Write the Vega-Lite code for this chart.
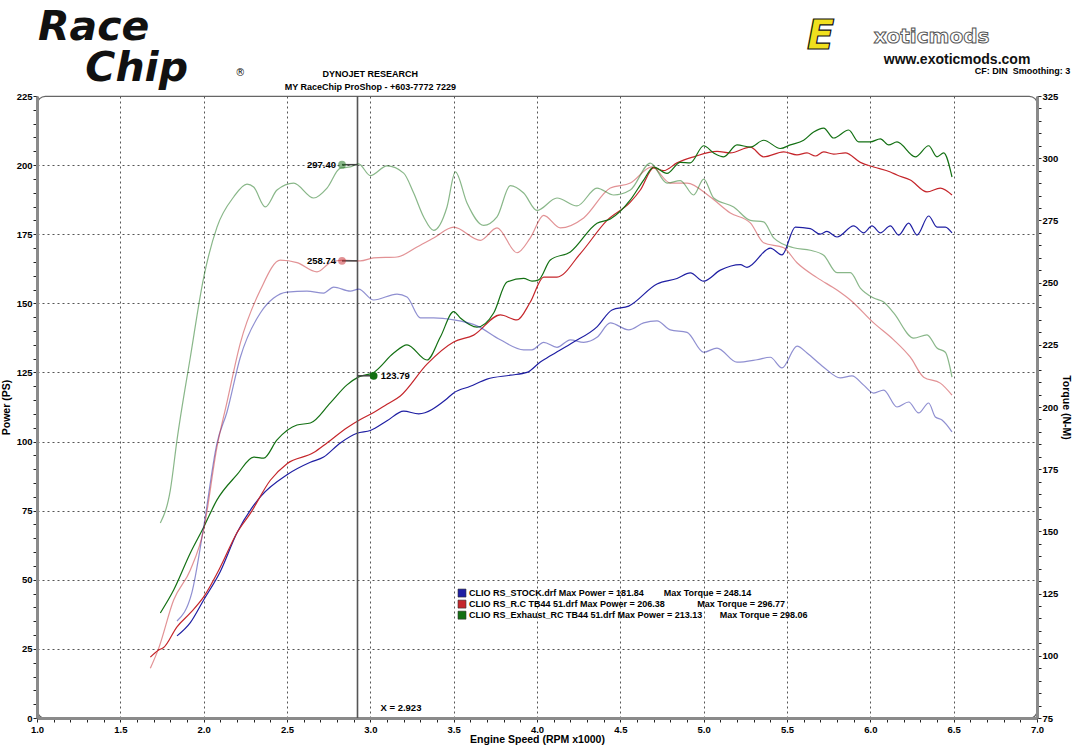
{
"$schema": "https://vega.github.io/schema/vega-lite/v6.json",
"width": 1000, "height": 622,
"autosize": {"type": "none"},
"padding": {"left": 37, "top": 96, "right": 43, "bottom": 30},
"background": "white",
"config": {
 "font": "Liberation Sans",
 "view": {"stroke": "#666", "strokeWidth": 1.2, "cornerRadius": 8},
 "axis": {"labelFont": "Liberation Sans", "labelFontWeight": "bold", "labelFontSize": 9.5, "labelColor": "#000", "titleFont": "Liberation Sans", "titleFontWeight": "bold", "titleFontSize": 10.5, "titleColor": "#000", "domainColor": "#8a8a8a", "domainWidth": 3, "tickColor": "#222", "tickWidth": 1, "tickSize": 4, "gridColor": "#555", "gridDash": [2, 3], "gridWidth": 1, "labelOverlap": false, "labelFlush": false, "labelBound": false, "tickCount": 1000}
},
"datasets": {
 "curves": [
{"run":"STOCK","kind":"power","rpm":1.84,"value":29.7},{"run":"STOCK","kind":"power","rpm":1.92,"value":34.5},{"run":"STOCK","kind":"power","rpm":2.0,"value":42.7},{"run":"STOCK","kind":"power","rpm":2.1,"value":53},{"run":"STOCK","kind":"power","rpm":2.2,"value":67},{"run":"STOCK","kind":"power","rpm":2.34,"value":80},{"run":"STOCK","kind":"power","rpm":2.5,"value":88},{"run":"STOCK","kind":"power","rpm":2.64,"value":92.5},{"run":"STOCK","kind":"power","rpm":2.72,"value":94.4},{"run":"STOCK","kind":"power","rpm":2.82,"value":99.5},{"run":"STOCK","kind":"power","rpm":2.92,"value":103},{"run":"STOCK","kind":"power","rpm":3.0,"value":104},{"run":"STOCK","kind":"power","rpm":3.1,"value":107.5},{"run":"STOCK","kind":"power","rpm":3.2,"value":111},{"run":"STOCK","kind":"power","rpm":3.29,"value":110},{"run":"STOCK","kind":"power","rpm":3.45,"value":115},{"run":"STOCK","kind":"power","rpm":3.5,"value":117.6},{"run":"STOCK","kind":"power","rpm":3.6,"value":120},{"run":"STOCK","kind":"power","rpm":3.7,"value":122.6},{"run":"STOCK","kind":"power","rpm":3.84,"value":124},{"run":"STOCK","kind":"power","rpm":3.94,"value":125},{"run":"STOCK","kind":"power","rpm":4.02,"value":128.8},{"run":"STOCK","kind":"power","rpm":4.08,"value":131},{"run":"STOCK","kind":"power","rpm":4.22,"value":136},{"run":"STOCK","kind":"power","rpm":4.36,"value":141.5},{"run":"STOCK","kind":"power","rpm":4.45,"value":147.6},{"run":"STOCK","kind":"power","rpm":4.55,"value":149},{"run":"STOCK","kind":"power","rpm":4.72,"value":157},{"run":"STOCK","kind":"power","rpm":4.84,"value":159},{"run":"STOCK","kind":"power","rpm":4.92,"value":161},{"run":"STOCK","kind":"power","rpm":5.0,"value":158},{"run":"STOCK","kind":"power","rpm":5.1,"value":162},{"run":"STOCK","kind":"power","rpm":5.22,"value":164},{"run":"STOCK","kind":"power","rpm":5.26,"value":163},{"run":"STOCK","kind":"power","rpm":5.4,"value":170},{"run":"STOCK","kind":"power","rpm":5.47,"value":167.5},{"run":"STOCK","kind":"power","rpm":5.55,"value":177.6},{"run":"STOCK","kind":"power","rpm":5.64,"value":177},{"run":"STOCK","kind":"power","rpm":5.7,"value":175},{"run":"STOCK","kind":"power","rpm":5.74,"value":176},{"run":"STOCK","kind":"power","rpm":5.8,"value":174},{"run":"STOCK","kind":"power","rpm":5.9,"value":178},{"run":"STOCK","kind":"power","rpm":5.96,"value":175.5},{"run":"STOCK","kind":"power","rpm":6.01,"value":178},{"run":"STOCK","kind":"power","rpm":6.06,"value":175.5},{"run":"STOCK","kind":"power","rpm":6.12,"value":178},{"run":"STOCK","kind":"power","rpm":6.17,"value":174.7},{"run":"STOCK","kind":"power","rpm":6.23,"value":179},{"run":"STOCK","kind":"power","rpm":6.28,"value":174.7},{"run":"STOCK","kind":"power","rpm":6.35,"value":181.6},{"run":"STOCK","kind":"power","rpm":6.4,"value":177.6},{"run":"STOCK","kind":"power","rpm":6.45,"value":177.6},{"run":"STOCK","kind":"power","rpm":6.49,"value":175.5},
{"run":"STOCK","kind":"torque","rpm":1.84,"value":114},{"run":"STOCK","kind":"torque","rpm":1.93,"value":125.6},{"run":"STOCK","kind":"torque","rpm":2.0,"value":151.8},{"run":"STOCK","kind":"torque","rpm":2.08,"value":185.5},{"run":"STOCK","kind":"torque","rpm":2.14,"value":198},{"run":"STOCK","kind":"torque","rpm":2.22,"value":220},{"run":"STOCK","kind":"torque","rpm":2.34,"value":237.8},{"run":"STOCK","kind":"torque","rpm":2.42,"value":243.8},{"run":"STOCK","kind":"torque","rpm":2.5,"value":246.2},{"run":"STOCK","kind":"torque","rpm":2.62,"value":246.6},{"run":"STOCK","kind":"torque","rpm":2.72,"value":245.8},{"run":"STOCK","kind":"torque","rpm":2.78,"value":248.2},{"run":"STOCK","kind":"torque","rpm":2.88,"value":246.6},{"run":"STOCK","kind":"torque","rpm":2.93,"value":247.4},{"run":"STOCK","kind":"torque","rpm":3.02,"value":243},{"run":"STOCK","kind":"torque","rpm":3.16,"value":245.4},{"run":"STOCK","kind":"torque","rpm":3.22,"value":244.2},{"run":"STOCK","kind":"torque","rpm":3.3,"value":235.8},{"run":"STOCK","kind":"torque","rpm":3.38,"value":235.8},{"run":"STOCK","kind":"torque","rpm":3.5,"value":235},{"run":"STOCK","kind":"torque","rpm":3.64,"value":232.6},{"run":"STOCK","kind":"torque","rpm":3.78,"value":227},{"run":"STOCK","kind":"torque","rpm":3.92,"value":223},{"run":"STOCK","kind":"torque","rpm":3.97,"value":223},{"run":"STOCK","kind":"torque","rpm":4.04,"value":226},{"run":"STOCK","kind":"torque","rpm":4.12,"value":224},{"run":"STOCK","kind":"torque","rpm":4.2,"value":227},{"run":"STOCK","kind":"torque","rpm":4.28,"value":226},{"run":"STOCK","kind":"torque","rpm":4.36,"value":228},{"run":"STOCK","kind":"torque","rpm":4.44,"value":233.8},{"run":"STOCK","kind":"torque","rpm":4.55,"value":231},{"run":"STOCK","kind":"torque","rpm":4.64,"value":233.8},{"run":"STOCK","kind":"torque","rpm":4.72,"value":234.6},{"run":"STOCK","kind":"torque","rpm":4.8,"value":231},{"run":"STOCK","kind":"torque","rpm":4.9,"value":230},{"run":"STOCK","kind":"torque","rpm":5.0,"value":222},{"run":"STOCK","kind":"torque","rpm":5.08,"value":223.7},{"run":"STOCK","kind":"torque","rpm":5.2,"value":218},{"run":"STOCK","kind":"torque","rpm":5.32,"value":219},{"run":"STOCK","kind":"torque","rpm":5.4,"value":220},{"run":"STOCK","kind":"torque","rpm":5.47,"value":215.7},{"run":"STOCK","kind":"torque","rpm":5.56,"value":224.5},{"run":"STOCK","kind":"torque","rpm":5.62,"value":221.7},{"run":"STOCK","kind":"torque","rpm":5.72,"value":216},{"run":"STOCK","kind":"torque","rpm":5.82,"value":211.7},{"run":"STOCK","kind":"torque","rpm":5.89,"value":212.5},{"run":"STOCK","kind":"torque","rpm":5.96,"value":208.8},{"run":"STOCK","kind":"torque","rpm":6.02,"value":205.6},{"run":"STOCK","kind":"torque","rpm":6.08,"value":206.8},{"run":"STOCK","kind":"torque","rpm":6.16,"value":200},{"run":"STOCK","kind":"torque","rpm":6.23,"value":202},{"run":"STOCK","kind":"torque","rpm":6.29,"value":197.6},{"run":"STOCK","kind":"torque","rpm":6.35,"value":201.6},{"run":"STOCK","kind":"torque","rpm":6.39,"value":196},{"run":"STOCK","kind":"torque","rpm":6.43,"value":194.8},{"run":"STOCK","kind":"torque","rpm":6.49,"value":190},
{"run":"RC","kind":"power","rpm":1.68,"value":22},{"run":"RC","kind":"power","rpm":1.73,"value":24.6},{"run":"RC","kind":"power","rpm":1.76,"value":25.5},{"run":"RC","kind":"power","rpm":1.84,"value":33},{"run":"RC","kind":"power","rpm":1.92,"value":38},{"run":"RC","kind":"power","rpm":2.0,"value":43.8},{"run":"RC","kind":"power","rpm":2.1,"value":54.6},{"run":"RC","kind":"power","rpm":2.2,"value":67},{"run":"RC","kind":"power","rpm":2.28,"value":74},{"run":"RC","kind":"power","rpm":2.4,"value":86},{"run":"RC","kind":"power","rpm":2.5,"value":92},{"run":"RC","kind":"power","rpm":2.66,"value":96},{"run":"RC","kind":"power","rpm":2.74,"value":99.5},{"run":"RC","kind":"power","rpm":2.86,"value":105},{"run":"RC","kind":"power","rpm":2.94,"value":108},{"run":"RC","kind":"power","rpm":3.02,"value":110.5},{"run":"RC","kind":"power","rpm":3.1,"value":113.5},{"run":"RC","kind":"power","rpm":3.18,"value":116.5},{"run":"RC","kind":"power","rpm":3.34,"value":128},{"run":"RC","kind":"power","rpm":3.5,"value":136},{"run":"RC","kind":"power","rpm":3.62,"value":138.5},{"run":"RC","kind":"power","rpm":3.78,"value":145.8},{"run":"RC","kind":"power","rpm":3.88,"value":144},{"run":"RC","kind":"power","rpm":3.96,"value":150.5},{"run":"RC","kind":"power","rpm":4.04,"value":159.5},{"run":"RC","kind":"power","rpm":4.12,"value":159.5},{"run":"RC","kind":"power","rpm":4.26,"value":168},{"run":"RC","kind":"power","rpm":4.42,"value":180},{"run":"RC","kind":"power","rpm":4.56,"value":186.6},{"run":"RC","kind":"power","rpm":4.62,"value":191},{"run":"RC","kind":"power","rpm":4.7,"value":199},{"run":"RC","kind":"power","rpm":4.76,"value":198},{"run":"RC","kind":"power","rpm":4.84,"value":200.8},{"run":"RC","kind":"power","rpm":4.94,"value":203},{"run":"RC","kind":"power","rpm":5.08,"value":205},{"run":"RC","kind":"power","rpm":5.16,"value":204.4},{"run":"RC","kind":"power","rpm":5.28,"value":206.5},{"run":"RC","kind":"power","rpm":5.36,"value":203},{"run":"RC","kind":"power","rpm":5.48,"value":204.8},{"run":"RC","kind":"power","rpm":5.56,"value":203.7},{"run":"RC","kind":"power","rpm":5.62,"value":204.4},{"run":"RC","kind":"power","rpm":5.67,"value":203.3},{"run":"RC","kind":"power","rpm":5.72,"value":204.8},{"run":"RC","kind":"power","rpm":5.78,"value":204},{"run":"RC","kind":"power","rpm":5.85,"value":204.4},{"run":"RC","kind":"power","rpm":5.94,"value":201},{"run":"RC","kind":"power","rpm":6.02,"value":199.3},{"run":"RC","kind":"power","rpm":6.12,"value":197.5},{"run":"RC","kind":"power","rpm":6.16,"value":196.4},{"run":"RC","kind":"power","rpm":6.24,"value":194.6},{"run":"RC","kind":"power","rpm":6.34,"value":190.3},{"run":"RC","kind":"power","rpm":6.42,"value":191.7},{"run":"RC","kind":"power","rpm":6.49,"value":189.2},
{"run":"RC","kind":"torque","rpm":1.68,"value":95},{"run":"RC","kind":"torque","rpm":1.73,"value":103},{"run":"RC","kind":"torque","rpm":1.82,"value":122.4},{"run":"RC","kind":"torque","rpm":1.92,"value":134.5},{"run":"RC","kind":"torque","rpm":2.0,"value":150.6},{"run":"RC","kind":"torque","rpm":2.08,"value":184},{"run":"RC","kind":"torque","rpm":2.14,"value":202},{"run":"RC","kind":"torque","rpm":2.22,"value":225.7},{"run":"RC","kind":"torque","rpm":2.34,"value":247},{"run":"RC","kind":"torque","rpm":2.46,"value":259},{"run":"RC","kind":"torque","rpm":2.56,"value":258},{"run":"RC","kind":"torque","rpm":2.68,"value":254.3},{"run":"RC","kind":"torque","rpm":2.76,"value":258},{"run":"RC","kind":"torque","rpm":2.84,"value":259},{"run":"RC","kind":"torque","rpm":2.94,"value":258.7},{"run":"RC","kind":"torque","rpm":3.02,"value":259.9},{"run":"RC","kind":"torque","rpm":3.16,"value":260.3},{"run":"RC","kind":"torque","rpm":3.28,"value":264.3},{"run":"RC","kind":"torque","rpm":3.38,"value":267.9},{"run":"RC","kind":"torque","rpm":3.5,"value":272.3},{"run":"RC","kind":"torque","rpm":3.66,"value":267},{"run":"RC","kind":"torque","rpm":3.76,"value":272},{"run":"RC","kind":"torque","rpm":3.88,"value":262},{"run":"RC","kind":"torque","rpm":3.96,"value":268},{"run":"RC","kind":"torque","rpm":4.04,"value":277},{"run":"RC","kind":"torque","rpm":4.14,"value":272},{"run":"RC","kind":"torque","rpm":4.28,"value":276},{"run":"RC","kind":"torque","rpm":4.44,"value":288},{"run":"RC","kind":"torque","rpm":4.56,"value":290},{"run":"RC","kind":"torque","rpm":4.69,"value":296.5},{"run":"RC","kind":"torque","rpm":4.8,"value":290},{"run":"RC","kind":"torque","rpm":4.9,"value":290},{"run":"RC","kind":"torque","rpm":5.04,"value":284.4},{"run":"RC","kind":"torque","rpm":5.16,"value":278},{"run":"RC","kind":"torque","rpm":5.28,"value":274},{"run":"RC","kind":"torque","rpm":5.36,"value":266},{"run":"RC","kind":"torque","rpm":5.48,"value":264},{"run":"RC","kind":"torque","rpm":5.56,"value":258},{"run":"RC","kind":"torque","rpm":5.68,"value":252},{"run":"RC","kind":"torque","rpm":5.8,"value":247},{"run":"RC","kind":"torque","rpm":5.88,"value":243},{"run":"RC","kind":"torque","rpm":6.02,"value":233.8},{"run":"RC","kind":"torque","rpm":6.14,"value":227},{"run":"RC","kind":"torque","rpm":6.24,"value":220},{"run":"RC","kind":"torque","rpm":6.32,"value":212},{"run":"RC","kind":"torque","rpm":6.42,"value":209.6},{"run":"RC","kind":"torque","rpm":6.49,"value":204.8},
{"run":"EXH","kind":"power","rpm":1.74,"value":38},{"run":"EXH","kind":"power","rpm":1.82,"value":46.3},{"run":"EXH","kind":"power","rpm":1.92,"value":59.7},{"run":"EXH","kind":"power","rpm":2.0,"value":69},{"run":"EXH","kind":"power","rpm":2.08,"value":78.9},{"run":"EXH","kind":"power","rpm":2.2,"value":88},{"run":"EXH","kind":"power","rpm":2.3,"value":94.4},{"run":"EXH","kind":"power","rpm":2.36,"value":94},{"run":"EXH","kind":"power","rpm":2.44,"value":100.6},{"run":"EXH","kind":"power","rpm":2.56,"value":106},{"run":"EXH","kind":"power","rpm":2.64,"value":106.7},{"run":"EXH","kind":"power","rpm":2.76,"value":114},{"run":"EXH","kind":"power","rpm":2.86,"value":120.5},{"run":"EXH","kind":"power","rpm":2.93,"value":123.4},{"run":"EXH","kind":"power","rpm":3.02,"value":125},{"run":"EXH","kind":"power","rpm":3.14,"value":132},{"run":"EXH","kind":"power","rpm":3.22,"value":135},{"run":"EXH","kind":"power","rpm":3.34,"value":129.5},{"run":"EXH","kind":"power","rpm":3.42,"value":137.8},{"run":"EXH","kind":"power","rpm":3.5,"value":147},{"run":"EXH","kind":"power","rpm":3.54,"value":144.7},{"run":"EXH","kind":"power","rpm":3.64,"value":141.4},{"run":"EXH","kind":"power","rpm":3.74,"value":146.5},{"run":"EXH","kind":"power","rpm":3.82,"value":157.7},{"run":"EXH","kind":"power","rpm":3.92,"value":159},{"run":"EXH","kind":"power","rpm":3.97,"value":158},{"run":"EXH","kind":"power","rpm":4.01,"value":158.5},{"run":"EXH","kind":"power","rpm":4.08,"value":165.7},{"run":"EXH","kind":"power","rpm":4.2,"value":168.6},{"run":"EXH","kind":"power","rpm":4.36,"value":179},{"run":"EXH","kind":"power","rpm":4.44,"value":180.5},{"run":"EXH","kind":"power","rpm":4.56,"value":187.4},{"run":"EXH","kind":"power","rpm":4.64,"value":194.6},{"run":"EXH","kind":"power","rpm":4.7,"value":199.3},{"run":"EXH","kind":"power","rpm":4.78,"value":197},{"run":"EXH","kind":"power","rpm":4.86,"value":201},{"run":"EXH","kind":"power","rpm":4.92,"value":200.8},{"run":"EXH","kind":"power","rpm":5.0,"value":207},{"run":"EXH","kind":"power","rpm":5.06,"value":204.4},{"run":"EXH","kind":"power","rpm":5.12,"value":203},{"run":"EXH","kind":"power","rpm":5.2,"value":207.3},{"run":"EXH","kind":"power","rpm":5.28,"value":206.5},{"run":"EXH","kind":"power","rpm":5.36,"value":209},{"run":"EXH","kind":"power","rpm":5.46,"value":206},{"run":"EXH","kind":"power","rpm":5.52,"value":207.3},{"run":"EXH","kind":"power","rpm":5.6,"value":209},{"run":"EXH","kind":"power","rpm":5.66,"value":212},{"run":"EXH","kind":"power","rpm":5.72,"value":213.4},{"run":"EXH","kind":"power","rpm":5.78,"value":209.8},{"run":"EXH","kind":"power","rpm":5.87,"value":212.7},{"run":"EXH","kind":"power","rpm":5.93,"value":208.4},{"run":"EXH","kind":"power","rpm":6.0,"value":208.4},{"run":"EXH","kind":"power","rpm":6.06,"value":209.5},{"run":"EXH","kind":"power","rpm":6.11,"value":207.3},{"run":"EXH","kind":"power","rpm":6.16,"value":208.4},{"run":"EXH","kind":"power","rpm":6.27,"value":203},{"run":"EXH","kind":"power","rpm":6.35,"value":207},{"run":"EXH","kind":"power","rpm":6.4,"value":203},{"run":"EXH","kind":"power","rpm":6.44,"value":204.4},{"run":"EXH","kind":"power","rpm":6.49,"value":195.7},
{"run":"EXH","kind":"torque","rpm":1.74,"value":153.4},{"run":"EXH","kind":"torque","rpm":1.8,"value":166.6},{"run":"EXH","kind":"torque","rpm":1.84,"value":186.7},{"run":"EXH","kind":"torque","rpm":1.92,"value":220},{"run":"EXH","kind":"torque","rpm":2.0,"value":252},{"run":"EXH","kind":"torque","rpm":2.08,"value":272.3},{"run":"EXH","kind":"torque","rpm":2.18,"value":284.4},{"run":"EXH","kind":"torque","rpm":2.26,"value":289.6},{"run":"EXH","kind":"torque","rpm":2.3,"value":288.4},{"run":"EXH","kind":"torque","rpm":2.37,"value":280.4},{"run":"EXH","kind":"torque","rpm":2.44,"value":287.2},{"run":"EXH","kind":"torque","rpm":2.54,"value":290},{"run":"EXH","kind":"torque","rpm":2.66,"value":284},{"run":"EXH","kind":"torque","rpm":2.74,"value":288},{"run":"EXH","kind":"torque","rpm":2.82,"value":296},{"run":"EXH","kind":"torque","rpm":2.88,"value":296.5},{"run":"EXH","kind":"torque","rpm":2.93,"value":297.7},{"run":"EXH","kind":"torque","rpm":3.0,"value":293},{"run":"EXH","kind":"torque","rpm":3.1,"value":296.9},{"run":"EXH","kind":"torque","rpm":3.2,"value":294},{"run":"EXH","kind":"torque","rpm":3.26,"value":286},{"run":"EXH","kind":"torque","rpm":3.32,"value":276.4},{"run":"EXH","kind":"torque","rpm":3.38,"value":271},{"run":"EXH","kind":"torque","rpm":3.46,"value":280.4},{"run":"EXH","kind":"torque","rpm":3.51,"value":294.5},{"run":"EXH","kind":"torque","rpm":3.58,"value":282},{"run":"EXH","kind":"torque","rpm":3.68,"value":273},{"run":"EXH","kind":"torque","rpm":3.76,"value":276.4},{"run":"EXH","kind":"torque","rpm":3.84,"value":289},{"run":"EXH","kind":"torque","rpm":3.92,"value":286},{"run":"EXH","kind":"torque","rpm":4.0,"value":279},{"run":"EXH","kind":"torque","rpm":4.12,"value":284},{"run":"EXH","kind":"torque","rpm":4.24,"value":280.8},{"run":"EXH","kind":"torque","rpm":4.36,"value":288},{"run":"EXH","kind":"torque","rpm":4.46,"value":285.2},{"run":"EXH","kind":"torque","rpm":4.56,"value":287.2},{"run":"EXH","kind":"torque","rpm":4.68,"value":298},{"run":"EXH","kind":"torque","rpm":4.78,"value":290},{"run":"EXH","kind":"torque","rpm":4.86,"value":291},{"run":"EXH","kind":"torque","rpm":4.94,"value":285.2},{"run":"EXH","kind":"torque","rpm":5.0,"value":291.6},{"run":"EXH","kind":"torque","rpm":5.06,"value":284},{"run":"EXH","kind":"torque","rpm":5.18,"value":280.4},{"run":"EXH","kind":"torque","rpm":5.28,"value":275},{"run":"EXH","kind":"torque","rpm":5.36,"value":274.4},{"run":"EXH","kind":"torque","rpm":5.42,"value":268},{"run":"EXH","kind":"torque","rpm":5.54,"value":264},{"run":"EXH","kind":"torque","rpm":5.64,"value":263},{"run":"EXH","kind":"torque","rpm":5.72,"value":261},{"run":"EXH","kind":"torque","rpm":5.8,"value":254},{"run":"EXH","kind":"torque","rpm":5.88,"value":254},{"run":"EXH","kind":"torque","rpm":5.94,"value":247.8},{"run":"EXH","kind":"torque","rpm":6.02,"value":243.8},{"run":"EXH","kind":"torque","rpm":6.08,"value":242.2},{"run":"EXH","kind":"torque","rpm":6.14,"value":237.8},{"run":"EXH","kind":"torque","rpm":6.26,"value":227.7},{"run":"EXH","kind":"torque","rpm":6.34,"value":229},{"run":"EXH","kind":"torque","rpm":6.4,"value":223.7},{"run":"EXH","kind":"torque","rpm":6.45,"value":222},{"run":"EXH","kind":"torque","rpm":6.49,"value":212}
 ],
 "markers": [
  {"run":"EXH","kind":"torque","rpm":2.83,"cursor":2.923,"value":297.40,"label":"297.40"},
  {"run":"RC","kind":"torque","rpm":2.83,"cursor":2.923,"value":258.74,"label":"258.74"},
  {"run":"EXH","kind":"power","rpm":3.02,"cursor":2.923,"value":123.79,"label":"123.79"}
 ],
 "cursor": [{"rpm": 2.923, "label": "X = 2.923"}]
},
"layer": [
 {
  "layer": [
   {
    "data": {"name": "curves"},
    "transform": [{"filter": "datum.kind == 'power'"}],
    "mark": {"type": "line", "strokeWidth": 1.2, "interpolate": "monotone"},
    "encoding": {
     "x": {"field": "rpm", "type": "quantitative", "scale": {"domain": [1, 7], "nice": false, "zero": false},
      "axis": {"title": "Engine Speed (RPM x1000)", "tickCount": 1000, "values": [1,1.1,1.2,1.3,1.4,1.5,1.6,1.7,1.8,1.9,2,2.1,2.2,2.3,2.4,2.5,2.6,2.7,2.8,2.9,3,3.1,3.2,3.3,3.4,3.5,3.6,3.7,3.8,3.9,4,4.1,4.2,4.3,4.4,4.5,4.6,4.7,4.8,4.9,5,5.1,5.2,5.3,5.4,5.5,5.6,5.7,5.8,5.9,6,6.1,6.2,6.3,6.4,6.5,6.6,6.7,6.8,6.9,7],
       "format": ".1f", "labelExpr": "abs(datum.value*2-round(datum.value*2)) < 0.01 ? datum.label : ''",
       "grid": true, "gridOpacity": {"condition": {"test": "abs(datum.value*2-round(datum.value*2)) < 0.01 && datum.value > 1.01 && datum.value < 6.99", "value": 1}, "value": 0},
       "labelPadding": 2, "titlePadding": 1}},
     "y": {"field": "value", "type": "quantitative", "scale": {"domain": [0, 225], "nice": false, "zero": false},
      "axis": {"title": "Power (PS)", "orient": "left", "tickCount": 1000, "format": "d", "values": [0,5,10,15,20,25,30,35,40,45,50,55,60,65,70,75,80,85,90,95,100,105,110,115,120,125,130,135,140,145,150,155,160,165,170,175,180,185,190,195,200,205,210,215,220,225],
       "labelExpr": "datum.value % 25 == 0 ? datum.label : ''",
       "grid": true, "gridOpacity": {"condition": {"test": "datum.value % 25 == 0 && datum.value > 0 && datum.value < 225", "value": 1}, "value": 0},
       "labelPadding": 1, "titlePadding": 5}},
     "color": {"field": "run", "type": "nominal", "scale": {"domain": ["STOCK", "RC", "EXH"], "range": ["#1f1fa3", "#c5262b", "#137013"]}, "legend": null},
     "opacity": {"field": "kind", "type": "nominal", "scale": {"domain": ["power", "torque"], "range": [1, 0.5]}, "legend": null}
    }
   },
   {
    "data": {"name": "cursor"},
    "mark": {"type": "rule", "color": "#555", "strokeWidth": 1.6},
    "encoding": {"x": {"field": "rpm", "type": "quantitative"}}
   },
   {
    "data": {"name": "cursor"},
    "mark": {"type": "text", "align": "left", "baseline": "middle", "dx": 23, "dy": -10, "font": "Liberation Sans", "fontWeight": "bold", "fontSize": 9.5, "color": "#000"},
    "encoding": {"x": {"field": "rpm", "type": "quantitative"}, "y": {"datum": 0, "type": "quantitative"}, "text": {"field": "label"}}
   },
   {
    "data": {"name": "markers"},
    "transform": [{"filter": "datum.kind == 'power'"}],
    "mark": {"type": "rule", "color": "#444", "strokeWidth": 1.5},
    "encoding": {"x": {"field": "rpm", "type": "quantitative"}, "x2": {"field": "cursor"}, "y": {"field": "value", "type": "quantitative"}}
   },
   {
    "data": {"name": "markers"},
    "transform": [{"filter": "datum.kind == 'power'"}],
    "mark": {"type": "circle", "size": 60},
    "encoding": {"x": {"field": "rpm", "type": "quantitative"}, "y": {"field": "value", "type": "quantitative"},
     "color": {"field": "run", "type": "nominal", "legend": null},
     "opacity": {"field": "kind", "type": "nominal"}}
   },
   {
    "data": {"name": "markers"},
    "transform": [{"filter": "datum.kind == 'power'"}],
    "mark": {"type": "text", "align": "left", "baseline": "middle", "dx": 7, "font": "Liberation Sans", "fontWeight": "bold", "fontSize": 9.5, "color": "#000"},
    "encoding": {"x": {"field": "rpm", "type": "quantitative"}, "y": {"field": "value", "type": "quantitative"}, "text": {"field": "label"}}
   },
   {
    "data": {"values": [{}]},
    "mark": {"type": "square", "size": 64, "filled": true, "opacity": 1, "stroke": "#333", "strokeWidth": 0.6},
    "encoding": {"x": {"datum": 3.55, "type": "quantitative"}, "y": {"datum": 45.2, "type": "quantitative"}, "color": {"datum": "STOCK", "type": "nominal", "legend": null}}
   },
   {
    "data": {"values": [{}]},
    "mark": {"type": "square", "size": 64, "filled": true, "opacity": 1, "stroke": "#333", "strokeWidth": 0.6},
    "encoding": {"x": {"datum": 3.55, "type": "quantitative"}, "y": {"datum": 41.2, "type": "quantitative"}, "color": {"datum": "RC", "type": "nominal", "legend": null}}
   },
   {
    "data": {"values": [{}]},
    "mark": {"type": "square", "size": 64, "filled": true, "opacity": 1, "stroke": "#333", "strokeWidth": 0.6},
    "encoding": {"x": {"datum": 3.55, "type": "quantitative"}, "y": {"datum": 37.2, "type": "quantitative"}, "color": {"datum": "EXH", "type": "nominal", "legend": null}}
   },
   {
    "data": {"values": [{}]},
    "mark": {"type": "text", "text": "CLIO RS_STOCK.drf Max Power = 181.84\u00a0\u00a0\u00a0\u00a0\u00a0\u00a0\u00a0\u00a0Max Torque = 248.14", "align": "left", "baseline": "middle", "font": "Liberation Sans", "fontWeight": "bold", "fontSize": 9, "color": "#000"},
    "encoding": {"x": {"datum": 3.592, "type": "quantitative"}, "y": {"datum": 45.2, "type": "quantitative"}}
   },
   {
    "data": {"values": [{}]},
    "mark": {"type": "text", "text": "CLIO RS_R.C TB44 51.drf Max Power = 206.38\u00a0\u00a0\u00a0\u00a0\u00a0\u00a0\u00a0\u00a0\u00a0\u00a0\u00a0\u00a0\u00a0Max Torque = 296.77", "align": "left", "baseline": "middle", "font": "Liberation Sans", "fontWeight": "bold", "fontSize": 9, "color": "#000"},
    "encoding": {"x": {"datum": 3.592, "type": "quantitative"}, "y": {"datum": 41.2, "type": "quantitative"}}
   },
   {
    "data": {"values": [{}]},
    "mark": {"type": "text", "text": "CLIO RS_Exhaust_RC TB44 51.drf Max Power = 213.13\u00a0\u00a0\u00a0\u00a0\u00a0\u00a0\u00a0Max Torque = 298.06", "align": "left", "baseline": "middle", "font": "Liberation Sans", "fontWeight": "bold", "fontSize": 9, "color": "#000"},
    "encoding": {"x": {"datum": 3.592, "type": "quantitative"}, "y": {"datum": 37.2, "type": "quantitative"}}
   },
   {
    "data": {"values": [{}]},
    "mark": {"type": "text", "text": "Race", "align": "left", "baseline": "alphabetic", "font": "DejaVu Sans", "fontWeight": "bold", "fontStyle": "italic", "fontSize": 41, "color": "#111"},
    "encoding": {"x": {"datum": 1.006, "type": "quantitative"}, "y": {"datum": 245.3, "type": "quantitative"}}
   },
   {
    "data": {"values": [{}]},
    "mark": {"type": "text", "text": "Chip", "align": "left", "baseline": "alphabetic", "font": "DejaVu Sans", "fontWeight": "bold", "fontStyle": "italic", "fontSize": 41, "color": "#111"},
    "encoding": {"x": {"datum": 1.29, "type": "quantitative"}, "y": {"datum": 230.4, "type": "quantitative"}}
   },
   {
    "data": {"values": [{}]},
    "mark": {"type": "text", "text": "®", "align": "left", "baseline": "middle", "font": "DejaVu Sans", "fontSize": 10, "color": "#111"},
    "encoding": {"x": {"datum": 2.19, "type": "quantitative"}, "y": {"datum": 233.3, "type": "quantitative"}}
   },
   {
    "data": {"values": [{}]},
    "mark": {"type": "text", "text": "DYNOJET RESEARCH", "align": "center", "baseline": "middle", "font": "Liberation Sans", "fontWeight": "bold", "fontSize": 9, "color": "#000"},
    "encoding": {"x": {"datum": 3.0, "type": "quantitative"}, "y": {"datum": 233.0, "type": "quantitative"}}
   },
   {
    "data": {"values": [{}]},
    "mark": {"type": "text", "text": "MY RaceChip ProShop - +603-7772 7229", "align": "center", "baseline": "middle", "font": "Liberation Sans", "fontWeight": "bold", "fontSize": 9, "color": "#000"},
    "encoding": {"x": {"datum": 3.0, "type": "quantitative"}, "y": {"datum": 228.3, "type": "quantitative"}}
   },
   {
    "data": {"values": [{}]},
    "mark": {"type": "text", "text": "CF: DIN\u00a0\u00a0Smoothing: 3", "align": "right", "baseline": "middle", "font": "Liberation Sans", "fontWeight": "bold", "fontSize": 9, "color": "#000"},
    "encoding": {"x": {"datum": 7.2, "type": "quantitative"}, "y": {"datum": 234.0, "type": "quantitative"}}
   },
   {
    "data": {"values": [{}]},
    "mark": {"type": "text", "text": "www.exoticmods.com", "align": "right", "baseline": "middle", "font": "Liberation Sans", "fontWeight": "bold", "fontSize": 14, "color": "#111"},
    "encoding": {"x": {"datum": 6.96, "type": "quantitative"}, "y": {"datum": 238.2, "type": "quantitative"}}
   },
   {
    "data": {"values": [{}]},
    "mark": {"type": "text", "text": "E", "align": "left", "baseline": "alphabetic", "font": "DejaVu Sans", "fontWeight": "bold", "fontStyle": "italic", "fontSize": 40, "color": "#f0e01e", "stroke": "#111", "strokeWidth": 1.2},
    "encoding": {"x": {"datum": 5.62, "type": "quantitative"}, "y": {"datum": 242.0, "type": "quantitative"}}
   },
   {
    "data": {"values": [{}]},
    "mark": {"type": "text", "text": "xoticmods", "align": "left", "baseline": "alphabetic", "font": "DejaVu Sans", "fontWeight": "bold", "fontSize": 20, "color": "#ffffff", "stroke": "#555", "strokeWidth": 1},
    "encoding": {"x": {"datum": 6.02, "type": "quantitative"}, "y": {"datum": 244.2, "type": "quantitative"}}
   }
  ]
 },
 {
  "layer": [
   {
    "data": {"name": "curves"},
    "transform": [{"filter": "datum.kind == 'torque'"}],
    "mark": {"type": "line", "strokeWidth": 1.2, "interpolate": "monotone"},
    "encoding": {
     "x": {"field": "rpm", "type": "quantitative"},
     "y": {"field": "value", "type": "quantitative", "scale": {"domain": [75, 325], "nice": false, "zero": false},
      "axis": {"title": "Torque (N-M)", "orient": "right", "tickCount": 1000, "format": "d", "values": [75,80,85,90,95,100,105,110,115,120,125,130,135,140,145,150,155,160,165,170,175,180,185,190,195,200,205,210,215,220,225,230,235,240,245,250,255,260,265,270,275,280,285,290,295,300,305,310,315,320,325],
       "labelExpr": "datum.value % 25 == 0 ? datum.label : ''", "grid": false, "labelPadding": 1, "titlePadding": 3}},
     "color": {"field": "run", "type": "nominal", "legend": null},
     "opacity": {"field": "kind", "type": "nominal"}
    }
   },
   {
    "data": {"name": "markers"},
    "transform": [{"filter": "datum.kind == 'torque'"}],
    "mark": {"type": "rule", "color": "#444", "strokeWidth": 1.5},
    "encoding": {"x": {"field": "rpm", "type": "quantitative"}, "x2": {"field": "cursor"}, "y": {"field": "value", "type": "quantitative"}}
   },
   {
    "data": {"name": "markers"},
    "transform": [{"filter": "datum.kind == 'torque'"}],
    "mark": {"type": "circle", "size": 60},
    "encoding": {"x": {"field": "rpm", "type": "quantitative"}, "y": {"field": "value", "type": "quantitative"},
     "color": {"field": "run", "type": "nominal", "legend": null}, "opacity": {"field": "kind", "type": "nominal"}}
   },
   {
    "data": {"name": "markers"},
    "transform": [{"filter": "datum.kind == 'torque'"}],
    "mark": {"type": "text", "align": "right", "baseline": "middle", "dx": -6, "font": "Liberation Sans", "fontWeight": "bold", "fontSize": 9.5, "color": "#000"},
    "encoding": {"x": {"field": "rpm", "type": "quantitative"}, "y": {"field": "value", "type": "quantitative"}, "text": {"field": "label"}}
   }
  ]
 }
],
"resolve": {"scale": {"y": "independent"}}
}
